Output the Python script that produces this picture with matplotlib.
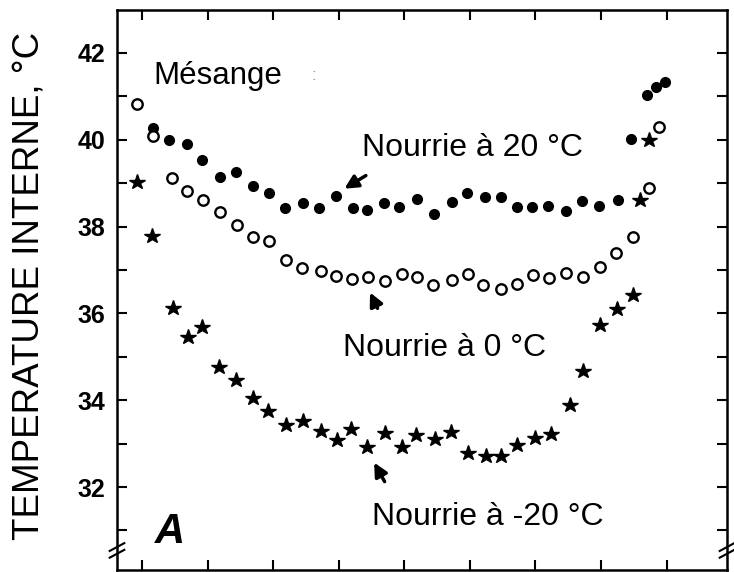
import numpy as np
import matplotlib
matplotlib.use("Agg")
import matplotlib.pyplot as plt

plt.rcParams['font.family'] = ['Liberation Sans', 'DejaVu Sans']

# Data (x in tick units, y in deg C)
x_fed20 = [0.17, 0.41, 0.69, 0.91, 1.19, 1.43, 1.69, 1.94, 2.18, 2.45, 2.70, 2.96,
           3.22, 3.43, 3.69, 3.92, 4.19, 4.45, 4.73, 4.95, 5.23, 5.47, 5.72, 5.95,
           6.19, 6.46, 6.71, 6.97, 7.26, 7.45, 7.70, 7.84, 7.97]
t_fed20 = [40.27, 40.00, 39.90, 39.53, 39.14, 39.26, 38.94, 38.77, 38.43, 38.54, 38.43, 38.71,
           38.43, 38.38, 38.54, 38.45, 38.64, 38.29, 38.57, 38.77, 38.68, 38.68, 38.45, 38.45,
           38.47, 38.36, 38.59, 38.47, 38.61, 40.02, 41.03, 41.22, 41.33]

x_fed0 = [-0.08, 0.17, 0.46, 0.69, 0.93, 1.19, 1.45, 1.69, 1.94, 2.20, 2.44, 2.73,
          2.96, 3.20, 3.45, 3.70, 3.96, 4.19, 4.44, 4.73, 4.97, 5.20, 5.47, 5.72,
          5.96, 6.20, 6.46, 6.72, 6.98, 7.23, 7.48, 7.73, 7.88]
t_fed0 = [40.82, 40.09, 39.12, 38.82, 38.61, 38.34, 38.04, 37.76, 37.67, 37.23, 37.05, 36.98,
          36.86, 36.79, 36.84, 36.75, 36.91, 36.84, 36.65, 36.77, 36.91, 36.65, 36.56, 36.68,
          36.88, 36.82, 36.93, 36.84, 37.07, 37.39, 37.76, 38.89, 40.29]

x_fedm20 = [-0.08, 0.15, 0.47, 0.70, 0.91, 1.17, 1.43, 1.69, 1.92, 2.20, 2.45, 2.73,
            2.97, 3.19, 3.43, 3.70, 3.96, 4.18, 4.47, 4.71, 4.97, 5.24, 5.47, 5.72,
            5.99, 6.23, 6.52, 6.72, 6.98, 7.24, 7.48, 7.59, 7.73]
t_fedm20 = [39.03, 37.78, 36.12, 35.46, 35.69, 34.76, 34.47, 34.05, 33.75, 33.43, 33.52, 33.29,
            33.08, 33.34, 32.92, 33.24, 32.92, 33.20, 33.11, 33.27, 32.78, 32.71, 32.71, 32.97,
            33.13, 33.22, 33.89, 34.67, 35.73, 36.10, 36.42, 38.61, 40.00]

y_major = [32, 34, 36, 38, 40, 42]
y_all = list(range(31, 43))
x_ticks = list(range(0, 9))

fig = plt.figure(figsize=(7.34, 5.72), dpi=100)
ax = fig.add_axes([0.1594, 0.0035, 0.8311, 0.979])

ax.plot(x_fed20, t_fed20, 'o', color='black', ms=7, ls='none', clip_on=False)
ax.plot(x_fed0, t_fed0, 'o', mfc='white', mec='black', mew=1.7, ms=7.5, ls='none', clip_on=False)
ax.plot(x_fedm20, t_fedm20, '*', color='black', ms=11.5, ls='none', clip_on=False)

ax.set_xlim(-0.38, 8.92)
ax.set_ylim(30.09, 42.99)

ax.set_xticks(x_ticks)
ax.set_xticklabels([])
ax.set_yticks(y_major)
ax.set_yticks(y_all, minor=True)
ax.set_yticklabels([str(v) for v in y_major], fontsize=18, fontweight='bold')
ax.tick_params(axis='both', which='both', direction='in', length=7, width=1.5,
               top=True, right=True)
ax.tick_params(axis='y', pad=8.5)
for s in ax.spines.values():
    s.set_linewidth(1.8)

fig.text(29 / 734, 1 - 286 / 572, 'TEMPERATURE INTERNE, °C', fontsize=26.5,
         rotation=90, ha='center', va='center')

# break marks on the y axes
for xb in (0.0, 1.0):
    for dy in (0.0, 0.012):
        ax.plot([xb - 0.012, xb + 0.012], [0.022 + dy, 0.036 + dy], transform=ax.transAxes,
                color='black', lw=1.5, clip_on=False)

ax.text(0.17, 41.47, 'Mésange', fontsize=22.5, va='center', ha='left')
ax.text(2.59, 41.47, ':', fontsize=12, color='0.6', va='center', ha='left')
ax.text(3.35, 39.81, 'Nourrie à 20 °C', fontsize=23, va='center', ha='left')
ax.text(3.06, 35.2, 'Nourrie à 0 °C', fontsize=23, va='center', ha='left')
ax.text(3.51, 31.31, 'Nourrie à -20 °C', fontsize=23, va='center', ha='left')
ax.text(0.2, 30.96, 'A', fontsize=30, fontweight='bold', fontstyle='italic', va='center', ha='left')

arrow = dict(arrowstyle='-|>,head_length=0.8,head_width=0.4', color='black', lw=2.5)
ax.annotate('', xy=(3.05, 38.84), xytext=(3.45, 39.21), arrowprops=arrow)
ax.annotate('', xy=(3.46, 36.54), xytext=(3.61, 36.06), arrowprops=arrow)
ax.annotate('', xy=(3.52, 32.62), xytext=(3.72, 32.07), arrowprops=arrow)

fig.savefig('out.png', dpi=100)
